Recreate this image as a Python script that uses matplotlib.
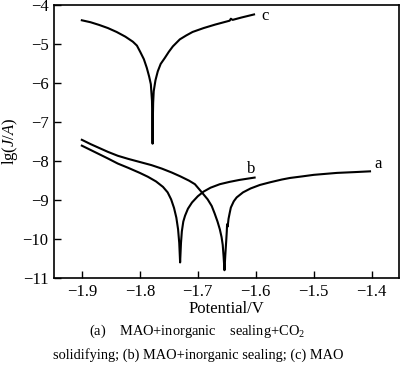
import matplotlib
matplotlib.use("Agg")
import matplotlib.pyplot as plt

plt.rcParams['font.family'] = ['Liberation Serif', 'DejaVu Serif']
plt.rcParams['mathtext.fontset'] = 'custom'
plt.rcParams['mathtext.rm'] = 'Liberation Serif'
plt.rcParams['mathtext.it'] = 'Liberation Serif:italic'

# Curve a: MAO+inorganic sealing+CO2 solidifying
a_x = [-1.900, -1.885, -1.870, -1.855, -1.838, -1.820, -1.800, -1.780, -1.762, -1.745,
       -1.730, -1.715, -1.705, -1.693, -1.683, -1.676, -1.671, -1.666, -1.662, -1.659,
       -1.657, -1.6555, -1.654, -1.6525, -1.651, -1.650, -1.6495, -1.6485, -1.647, -1.645,
       -1.643, -1.638, -1.633, -1.622, -1.609, -1.593, -1.575, -1.555, -1.541, -1.520,
       -1.500, -1.484, -1.460, -1.430, -1.403]
a_y = [-7.45, -7.56, -7.66, -7.76, -7.86, -7.94, -8.02, -8.10, -8.19, -8.29,
       -8.39, -8.50, -8.59, -8.80, -8.98, -9.15, -9.34, -9.55, -9.75, -9.95,
       -10.15, -10.45, -10.80, -10.40, -10.05, -9.80, -9.62, -9.68, -9.48, -9.33,
       -9.19, -9.03, -8.93, -8.80, -8.70, -8.61, -8.54, -8.47, -8.43, -8.39,
       -8.35, -8.33, -8.30, -8.28, -8.26]

# Curve b: MAO+inorganic sealing
b_x = [-1.900, -1.885, -1.870, -1.855, -1.838, -1.820, -1.800, -1.786, -1.772, -1.760,
       -1.752, -1.746, -1.741, -1.737, -1.734, -1.732, -1.7305, -1.729, -1.7275, -1.725,
       -1.722, -1.717, -1.710, -1.700, -1.690, -1.678, -1.662, -1.645, -1.628, -1.615,
       -1.602]
b_y = [-7.60, -7.71, -7.82, -7.93, -8.06, -8.17, -8.30, -8.40, -8.52, -8.66,
       -8.80, -8.98, -9.20, -9.45, -9.75, -10.10, -10.60, -10.10, -9.80, -9.55,
       -9.40, -9.22, -9.06, -8.90, -8.78, -8.68, -8.59, -8.53, -8.48, -8.45,
       -8.42]

# Curve c: MAO
c_x = [-1.900, -1.885, -1.870, -1.855, -1.840, -1.825, -1.812, -1.805, -1.799, -1.793,
       -1.788, -1.784, -1.781, -1.779, -1.7785, -1.778, -1.7775, -1.777, -1.776, -1.773,
       -1.769, -1.764, -1.757, -1.750, -1.743, -1.731, -1.720, -1.709, -1.690, -1.670,
       -1.650, -1.645, -1.643, -1.640, -1.625, -1.603]
c_y = [-4.38, -4.43, -4.50, -4.58, -4.68, -4.80, -4.93, -5.03, -5.20, -5.38,
       -5.60, -5.82, -6.02, -6.45, -6.90, -7.55, -6.90, -6.50, -6.20, -5.92,
       -5.69, -5.50, -5.35, -5.19, -5.05, -4.87, -4.77, -4.68, -4.58, -4.49,
       -4.41, -4.39, -4.34, -4.37, -4.31, -4.23]

labels = ['a', 'b', 'c']
label_pos = [(-1.395, -8.06), (-1.616, -8.19), (-1.590, -4.26)]

x_ticks = [-1.9, -1.8, -1.7, -1.6, -1.5, -1.4]
y_ticks = [-4, -5, -6, -7, -8, -9, -10, -11]

fig = plt.figure(figsize=(4.0, 3.66), dpi=100)
ax = fig.add_axes([0.135, 0.2404, 0.8625, 0.7446])

for xs, ys in [(a_x, a_y), (b_x, b_y), (c_x, c_y)]:
    ax.plot(xs, ys, color='black', lw=1.5)

for lab, (lx, ly) in zip(labels, label_pos):
    ax.text(lx, ly, lab, fontsize=12, ha='left', va='center')

ax.set_xlim(-1.948, -1.353)
ax.set_ylim(-11, -4)
ax.set_xticks(x_ticks)
ax.set_xticklabels([f"\u2212{abs(v):.1f}" for v in x_ticks])
ax.set_yticks(y_ticks)
ax.set_yticklabels([f"\u2212{abs(v)}" for v in y_ticks])
ax.tick_params(direction='in', length=5, width=1, labelsize=12, pad=4)
for s in ax.spines.values():
    s.set_linewidth(1.2)
ax.set_xlabel("Potential/V", fontsize=12, labelpad=1)
ax.set_ylabel(r"lg($J/A$)", fontsize=12, labelpad=2)

fig.text(0.493, 0.095, "(a)    MAO+inorganic    sealing+CO$_2$", ha='center', va='center', fontsize=10.4)
fig.text(0.495, 0.03, "solidifying; (b) MAO+inorganic sealing; (c) MAO", ha='center', va='center', fontsize=10.4)

fig.savefig("out.png", dpi=100)
